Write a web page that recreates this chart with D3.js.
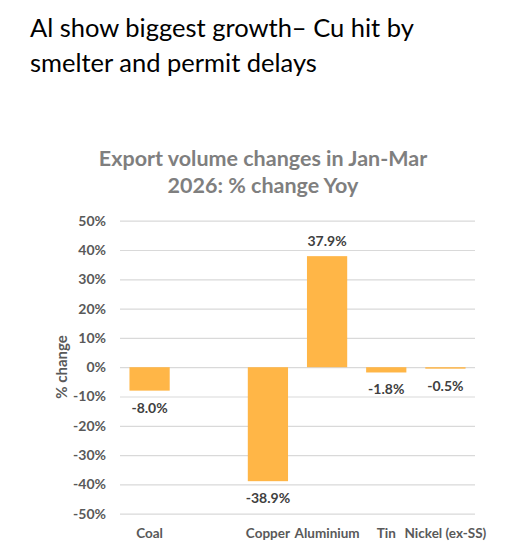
<!DOCTYPE html>
<html>
<head>
<meta charset="utf-8">
<script src="https://cdnjs.cloudflare.com/ajax/libs/d3/7.8.5/d3.min.js"></script>
<style>
  body { margin: 0; background: #fff; }
  svg { font-family: Lato, "Open Sans", sans-serif; }
</style>
</head>
<body>
<div id="chart"></div>
<script>
// data
const categories = ['Coal', '', 'Copper', 'Aluminium', 'Tin', 'Nickel (ex-SS)'];
const values = [-8.0, null, -38.9, 37.9, -1.8, -0.5];
const yTicks = [50, 40, 30, 20, 10, 0, -10, -20, -30, -40, -50];
const titleLines = ['Al show biggest growth\u2013 Cu hit by', 'smelter and permit delays'];
const chartTitleLines = ['Export volume changes in Jan-Mar', '2026: % change Yoy'];

const width = 508, height = 553;
const plot = {left: 120, right: 475, top: 220.7, bottom: 513.7};

const svg = d3.select('#chart')
    .append('svg')
    .attr('width', width)
    .attr('height', height);

// slide title
svg.append('g')
    .selectAll('text')
    .data(titleLines)
    .enter()
    .append('text')
    .attr('x', 30)
    .attr('y', (d, i) => 37 + i * 35)
    .attr('font-size', 25.5)
    .attr('fill', '#000')
    .text(d => d);

// chart title
svg.append('g')
    .selectAll('text')
    .data(chartTitleLines)
    .enter()
    .append('text')
    .attr('x', 263)
    .attr('y', (d, i) => 166 + i * 27)
    .attr('text-anchor', 'middle')
    .attr('font-size', 21.5)
    .attr('font-weight', 'bold')
    .attr('fill', '#7f7f7f')
    .text(d => d);

// scales
let x = d3.scaleBand()
    .domain(d3.range(categories.length))
    .range([plot.left, plot.right])
    .paddingInner(0.32)
    .paddingOuter(0.16);

let y = d3.scaleLinear()
    .domain([-50, 50])
    .range([plot.bottom, plot.top]);

// gridlines + tick labels
svg.append('g')
    .attr('transform', `translate(${plot.left},0)`)
    .call(d3.axisLeft(y)
        .tickValues(yTicks)
        .tickSize(-(plot.right - plot.left))
        .tickFormat(d => d + '%'))
    .call(g => g.select('.domain').remove())
    .call(g => g.selectAll('.tick line').attr('stroke', '#d9d9d9').attr('stroke-width', 1.2))
    .call(g => g.selectAll('.tick text')
        .attr('x', -14)
        .attr('font-size', 14)
        .attr('font-weight', 'bold')
        .attr('font-family', 'Lato, sans-serif')
        .attr('fill', '#595959'));

// bars
const rows = categories.map((c, i) => ({i: i, name: c, value: values[i]}))
    .filter(d => d.value !== null);

svg.append('g')
    .selectAll('rect')
    .data(rows)
    .enter()
    .append('rect')
    .attr('x', d => x(d.i))
    .attr('width', x.bandwidth())
    .attr('y', d => y(Math.max(0, d.value)))
    .attr('height', d => Math.abs(y(d.value) - y(0)))
    .attr('fill', '#ffb647');

// data labels
svg.append('g')
    .selectAll('text')
    .data(rows)
    .enter()
    .append('text')
    .attr('x', d => x(d.i) + x.bandwidth() / 2)
    .attr('y', d => d.value >= 0 ? y(d.value) - 10 : y(d.value) + 22)
    .attr('text-anchor', 'middle')
    .attr('font-size', 14)
    .attr('font-weight', 'bold')
    .attr('fill', '#404040')
    .text(d => d.value.toFixed(1) + '%');

// category labels
svg.append('g')
    .attr('transform', `translate(0,${plot.bottom})`)
    .call(d3.axisBottom(x).tickSize(0).tickFormat(i => categories[i]))
    .call(g => g.select('.domain').remove())
    .call(g => g.selectAll('.tick text')
        .attr('dy', 0)
        .attr('y', 24)
        .attr('font-size', 13.5)
        .attr('font-weight', 'bold')
        .attr('font-family', 'Lato, sans-serif')
        .attr('fill', '#595959'));

// y axis title
svg.append('text')
    .attr('transform', 'translate(67,367) rotate(-90)')
    .attr('text-anchor', 'middle')
    .attr('font-size', 15)
    .attr('font-weight', 'bold')
    .attr('fill', '#595959')
    .text('% change');
</script>
</body>
</html>
